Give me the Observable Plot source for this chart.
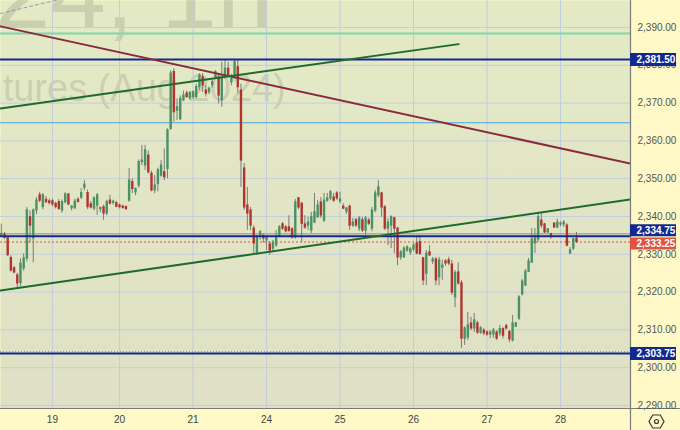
<!DOCTYPE html>
<html><head><meta charset="utf-8">
<script src="https://cdn.jsdelivr.net/npm/d3@7"></script>
<script src="https://cdn.jsdelivr.net/npm/@observablehq/plot@0.6"></script>
<style>html,body{margin:0;padding:0;background:#fff9c8;overflow:hidden}</style>
</head><body><div id="chart"></div>
<script>
// ---- hourly candles (bar index 0..180) ----
const opens = [
2335.0,2335.2,2334.2,2329.0,2326.3,2324.4,2322.4,2326.3,2328.9,2339.8,
2334.2,2341.6,2345.6,2342.5,2344.4,2344.0,2344.0,2343.3,2343.8,2341.6,
2343.8,2345.8,2342.2,2342.2,2344.4,2345.0,2347.6,2346.2,2343.2,2342.1,
2342.9,2341.9,2342.4,2340.8,2344.2,2343.6,2343.5,2342.9,2342.6,2342.5,
2344.2,2349.1,2346.4,2348.2,2354.4,2353.5,2356.1,2351.3,2346.9,2348.6,
2350.8,2351.7,2352.6,2363.2,2378.2,2368.0,2365.8,2370.7,2372.5,2371.3,
2371.6,2371.6,2374.2,2376.8,2373.3,2372.9,2374.8,2376.8,2376.8,2370.7,
2376.8,2379.1,2375.5,2376.9,2379.5,2373.3,2352.7,2342.9,2341.6,2336.8,
2330.5,2335.0,2334.8,2333.7,2332.6,2331.5,2332.4,2334.9,2337.9,2337.1,
2337.1,2336.6,2334.5,2344.8,2343.4,2337.9,2337.6,2336.3,2338.4,2339.8,
2343.7,2338.9,2344.2,2344.8,2345.0,2346.1,2344.0,2342.6,2341.3,2342.6,
2337.6,2339.0,2336.8,2339.0,2336.3,2338.9,2336.8,2341.6,2345.6,2346.1,
2342.4,2336.8,2337.6,2339.5,2336.8,2329.2,2329.2,2331.0,2330.5,2331.3,
2332.9,2333.2,2328.9,2324.9,2330.5,2328.1,2328.6,2323.9,2326.5,2328.1,
2328.4,2327.3,2318.6,2325.2,2322.3,2307.7,2308.0,2311.7,2310.4,2311.7,
2309.3,2309.8,2309.3,2308.8,2308.8,2309.3,2309.1,2310.2,2311.0,2309.4,
2307.2,2310.9,2313.0,2319.4,2321.7,2325.4,2327.8,2332.9,2333.9,2338.9,
2337.9,2335.8,2335.3,2338.1,2337.1,2337.9,2337.9,2337.6,2330.2,2331.5,
2334.1];
const highs = [
2338.0,2335.8,2334.6,2329.6,2326.8,2325.0,2328.8,2330.1,2342.4,2341.5,
2342.0,2345.0,2346.4,2346.0,2345.3,2344.6,2344.6,2343.8,2344.5,2344.4,
2346.3,2346.1,2342.9,2344.6,2345.0,2347.4,2349.5,2347.0,2344.0,2345.2,
2346.1,2342.4,2343.0,2344.3,2345.6,2344.3,2344.0,2343.3,2343.0,2342.8,
2352.7,2350.0,2347.5,2355.0,2358.8,2358.8,2357.3,2352.0,2350.8,2352.8,
2354.8,2357.9,2363.2,2378.6,2379.1,2371.1,2371.9,2373.2,2373.2,2373.1,
2373.2,2375.0,2377.8,2377.8,2374.7,2374.2,2376.0,2378.6,2377.7,2380.8,
2381.3,2380.8,2377.6,2381.5,2381.3,2375.0,2354.0,2347.7,2342.4,2337.5,
2335.0,2336.3,2335.4,2334.8,2333.4,2333.7,2336.3,2337.6,2338.4,2337.6,
2340.2,2337.0,2344.5,2345.0,2343.6,2340.2,2339.8,2341.1,2346.1,2344.2,
2345.0,2346.1,2346.1,2346.9,2346.1,2346.6,2346.4,2343.4,2342.4,2343.0,
2339.5,2339.5,2340.0,2339.8,2340.0,2339.5,2342.4,2346.9,2349.5,2346.4,
2342.9,2339.5,2340.2,2339.8,2337.1,2331.0,2332.0,2332.3,2331.8,2332.8,
2334.9,2334.9,2329.2,2331.0,2332.3,2329.2,2329.2,2329.2,2328.4,2328.6,
2329.2,2328.4,2325.7,2327.8,2323.1,2310.8,2314.6,2313.3,2314.3,2312.3,
2310.9,2310.4,2309.8,2309.8,2310.4,2309.8,2311.2,2310.6,2311.5,2309.9,
2313.8,2312.0,2319.1,2323.3,2326.0,2328.9,2336.8,2336.8,2341.1,2341.1,
2338.2,2336.8,2335.6,2338.4,2339.3,2338.6,2338.9,2338.1,2331.8,2334.2,
2335.8];
const lows = [
2334.6,2333.9,2329.4,2325.3,2324.8,2321.1,2321.4,2325.5,2328.0,2333.0,
2327.8,2340.5,2343.7,2341.8,2343.4,2343.0,2342.6,2342.0,2341.6,2340.9,
2343.3,2342.8,2341.5,2341.8,2343.5,2344.5,2346.8,2341.8,2342.0,2341.5,
2340.3,2341.0,2339.0,2340.2,2343.1,2343.0,2342.3,2342.0,2341.9,2341.6,
2343.8,2346.1,2345.5,2347.5,2353.5,2352.2,2351.3,2346.5,2346.0,2346.5,
2350.4,2349.5,2350.0,2362.8,2365.0,2365.4,2365.4,2370.4,2371.3,2370.7,
2371.0,2371.2,2373.3,2372.8,2371.6,2372.2,2374.0,2376.4,2369.8,2368.9,
2376.4,2376.9,2374.6,2376.4,2372.5,2347.7,2341.6,2336.3,2336.3,2330.2,
2329.7,2333.7,2332.9,2331.0,2329.7,2330.5,2331.8,2334.4,2336.3,2335.7,
2335.8,2334.0,2334.0,2341.8,2333.1,2336.6,2336.3,2335.5,2338.1,2339.5,
2339.5,2338.4,2343.7,2344.2,2343.7,2344.2,2343.4,2341.8,2340.5,2336.3,
2337.1,2337.1,2336.0,2335.8,2335.0,2337.6,2336.0,2341.0,2345.0,2339.8,
2336.3,2332.3,2331.5,2330.2,2327.0,2328.4,2328.9,2330.5,2329.7,2330.7,
2329.9,2329.7,2321.7,2321.7,2329.5,2327.3,2321.7,2321.7,2323.1,2326.8,
2327.0,2319.1,2315.9,2321.8,2305.1,2305.9,2307.2,2309.8,2309.3,2308.8,
2308.8,2308.5,2308.3,2307.7,2307.8,2307.2,2308.3,2307.6,2310.0,2306.6,
2306.8,2310.6,2312.5,2319.0,2321.7,2325.2,2327.8,2330.2,2333.1,2336.8,
2335.5,2335.5,2333.9,2336.8,2336.8,2337.3,2337.1,2332.0,2330.0,2331.0,
2332.9];
const closes = [
2335.4,2334.4,2329.8,2325.7,2325.2,2322.3,2327.5,2328.9,2341.6,2337.6,
2341.6,2344.2,2344.2,2345.6,2343.8,2343.6,2343.2,2342.5,2342.0,2343.8,
2345.8,2343.2,2342.6,2343.9,2343.9,2346.2,2348.4,2342.5,2342.4,2344.8,
2345.6,2342.3,2340.8,2343.8,2343.4,2343.9,2342.6,2342.5,2342.3,2342.0,
2349.5,2347.3,2347.3,2354.4,2354.8,2357.5,2351.7,2346.9,2348.2,2352.2,
2353.5,2350.4,2362.8,2377.8,2367.6,2368.9,2371.1,2372.0,2371.6,2372.7,
2372.9,2374.2,2377.3,2374.7,2372.5,2373.8,2375.5,2378.2,2372.0,2376.4,
2379.1,2377.3,2376.4,2380.8,2374.2,2354.8,2342.4,2340.8,2337.6,2332.9,
2334.4,2335.8,2334.2,2334.4,2331.0,2333.1,2334.6,2337.1,2336.8,2336.1,
2336.2,2334.5,2343.7,2342.4,2338.1,2337.1,2338.4,2339.8,2341.1,2342.9,
2340.3,2344.2,2344.8,2346.4,2344.2,2344.8,2344.5,2342.1,2342.1,2337.6,
2338.4,2337.6,2339.5,2336.3,2339.5,2338.1,2341.6,2346.1,2347.7,2342.4,
2336.8,2338.4,2339.8,2336.8,2329.2,2330.5,2331.5,2331.8,2331.3,2332.3,
2330.2,2330.1,2323.1,2330.2,2329.7,2328.6,2323.1,2328.4,2327.0,2327.6,
2327.6,2319.9,2325.0,2322.3,2307.7,2310.4,2311.2,2310.4,2312.5,2309.3,
2310.4,2309.1,2308.8,2309.3,2309.8,2307.7,2310.2,2308.5,2310.4,2307.5,
2311.7,2311.7,2318.6,2322.8,2325.4,2328.1,2333.9,2334.2,2339.8,2337.6,
2335.8,2336.6,2335.0,2337.1,2338.4,2338.1,2338.4,2332.3,2331.0,2334.0,
2333.25];

// ---- axes ----
const dayTicks = [16, 37, 60, 83, 106, 129, 152, 175];
const dayLabels = ["19", "20", "21", "24", "25", "26", "27", "28"];
const priceTicks = [2290, 2300, 2310, 2320, 2330, 2340, 2350, 2360, 2370, 2380, 2390];
const xDomain = [-0.25, 196.9];
const yDomain = [2289.21, 2397.14];

// ---- drawings ----
const navyLevels = [2381.50, 2334.75, 2303.75];
const lastPrice = 2333.25;
const mintLevel = 2388.4;
const skyLevel = 2364.8;
const grayLevel = 2335.4;
const dottedLevel = 2304.2;
const maroonX = [-0.25, 196.9], maroonY = [2390.3, 2354.0];
const upperGreenX = [-0.25, 143.1], upperGreenY = [2368.6, 2385.6];
const lowerGreenX = [-0.25, 196.9], lowerGreenY = [2320.4, 2344.5];
const dashX = [-0.25, 22], dashY = [2393.7, 2398.2];

const title1 = "GCQ2024, 1h";
const title2 = "Gold Futures (Aug 2024)";

const GREEN = "#4a9163", RED = "#b0342d", NAVY = "#13298e", LASTRED = "#e0533f";

const rows = opens.map((o, i) => ({i, o, h: highs[i], l: lows[i], c: closes[i]}));
const up = rows.filter(d => d.c >= d.o);
const down = rows.filter(d => d.c < d.o);
const pts = (xs, ys) => xs.map((x, k) => ({x, y: ys[k]}));
const fmt = d3.format(",.2f");

const bgDefs = () => {
  const defs = document.createElementNS("http://www.w3.org/2000/svg", "defs");
  defs.innerHTML = '<linearGradient id="plotbg" x1="0" y1="0" x2="0" y2="1"><stop offset="0" stop-color="#e4eac5"/><stop offset="1" stop-color="#dfe0c5"/></linearGradient>';
  return defs;
};

const body = (data, color) => Plot.ruleX(data, {
  x: "i", y1: d => Math.max(d.o, d.c), y2: d => Math.min(d.o, d.c),
  stroke: color, strokeWidth: 2.4, insetTop: -0.6, insetBottom: -0.6
});

const chart = Plot.plot({
  width: 680, height: 430,
  marginLeft: 0, marginRight: 50, marginTop: 0, marginBottom: 22,
  style: {background: "#fff9c8", fontFamily: "'Liberation Sans', Arial, sans-serif", fontSize: "10px", color: "#4a4a4a"},
  x: {domain: xDomain, label: null},
  y: {domain: yDomain, label: null},
  marks: [
    bgDefs,
    Plot.frame({fill: "url(#plotbg)", stroke: "none"}),
    Plot.text([title1], {frameAnchor: "top-left", text: d => d, dx: -345, dy: 27, lineAnchor: "bottom", textAnchor: "start", fontSize: 100, fill: "#8d947a", fillOpacity: 0.3}),
    Plot.text([title2], {frameAnchor: "top-left", text: d => d, dx: -133, dy: 100, lineAnchor: "bottom", textAnchor: "start", fontSize: 38, fill: "#8d947a", fillOpacity: 0.3}),
    Plot.gridY(priceTicks, {stroke: "#c2cedc", strokeOpacity: 1}),
    Plot.gridX(dayTicks, {stroke: "#c2cedc", strokeOpacity: 1}),
    Plot.ruleY([mintLevel], {stroke: "#7fd6ab", strokeWidth: 2}),
    Plot.ruleY([skyLevel], {stroke: "#44a7e0", strokeWidth: 1}),
    Plot.ruleY([grayLevel], {stroke: "#8c8c8c", strokeWidth: 1}),
    Plot.ruleY([dottedLevel], {stroke: "#7c7c7c", strokeDasharray: "1,2"}),
    Plot.ruleY([lastPrice], {stroke: LASTRED, strokeDasharray: "2,2", strokeWidth: 1}),
    Plot.ruleX(rows, {x: "i", y1: d => Math.min(d.l, d.o, d.c), y2: d => Math.max(d.h, d.o, d.c), stroke: "#7b7b7b", strokeWidth: 1}),
    body(up, GREEN),
    body(down, RED),
    Plot.ruleY(navyLevels, {stroke: NAVY, strokeWidth: 2}),
    Plot.line(pts(maroonX, maroonY), {x: "x", y: "y", stroke: "#8a2a3e", strokeWidth: 2, clip: true}),
    Plot.line(pts(upperGreenX, upperGreenY), {x: "x", y: "y", stroke: "#1f6b2c", strokeWidth: 2, clip: true}),
    Plot.line(pts(lowerGreenX, lowerGreenY), {x: "x", y: "y", stroke: "#1f6b2c", strokeWidth: 2, clip: true}),
    Plot.line(pts(dashX, dashY), {x: "x", y: "y", stroke: "#999", strokeWidth: 1, strokeDasharray: "3,3", clip: true}),
    Plot.ruleX([xDomain[1]], {stroke: "#7a7a7a", strokeWidth: 1.2, insetBottom: -22}),
    Plot.ruleY([yDomain[0]], {stroke: "#7a7a7a", strokeWidth: 1.2, insetRight: -50}),
    Plot.axisY(priceTicks, {anchor: "right", label: null, tickSize: 0, tickPadding: 7, tickFormat: fmt, fill: "#555", fontSize: 10, letterSpacing: -0.3}),
    Plot.axisX(dayTicks, {label: null, tickSize: 0, tickPadding: 7, tickFormat: d => dayLabels[dayTicks.indexOf(d)], fill: "#444", fontSize: 10}),
    Plot.ruleY([navyLevels[0], navyLevels[2]], {stroke: NAVY, strokeWidth: 13, insetLeft: 630, insetRight: -46}),
    Plot.ruleY([navyLevels[1]], {stroke: NAVY, strokeWidth: 12, insetLeft: 630, insetRight: -46, dy: -6}),
    Plot.ruleY([lastPrice], {stroke: LASTRED, strokeWidth: 12, insetLeft: 630, insetRight: -46, dy: 1.5}),
    Plot.text([navyLevels[0], navyLevels[2]], {y: d => d, text: fmt, frameAnchor: "right", dx: 6, textAnchor: "start", fill: "white", fontWeight: "bold", fontSize: 10, letterSpacing: -0.3}),
    Plot.text([navyLevels[1]], {y: d => d, text: fmt, frameAnchor: "right", dx: 6, dy: -6, textAnchor: "start", fill: "white", fontWeight: "bold", fontSize: 10, letterSpacing: -0.3}),
    Plot.text([lastPrice], {y: d => d, text: fmt, frameAnchor: "right", dx: 6, dy: 1.5, textAnchor: "start", fill: "white", fontWeight: "bold", fontSize: 10, letterSpacing: -0.3}),
    Plot.dot([0], {frameAnchor: "bottom-right", dx: 26, dy: 13, symbol: "hexagon", r: 6.5, stroke: "#3a3a3a", fill: "none", strokeWidth: 1.2, rotate: 30}),
    Plot.dot([0], {frameAnchor: "bottom-right", dx: 26, dy: 13, r: 2, stroke: "#3a3a3a", fill: "none", strokeWidth: 1.2})
  ]
});
document.getElementById("chart").append(chart);
</script></body></html>
